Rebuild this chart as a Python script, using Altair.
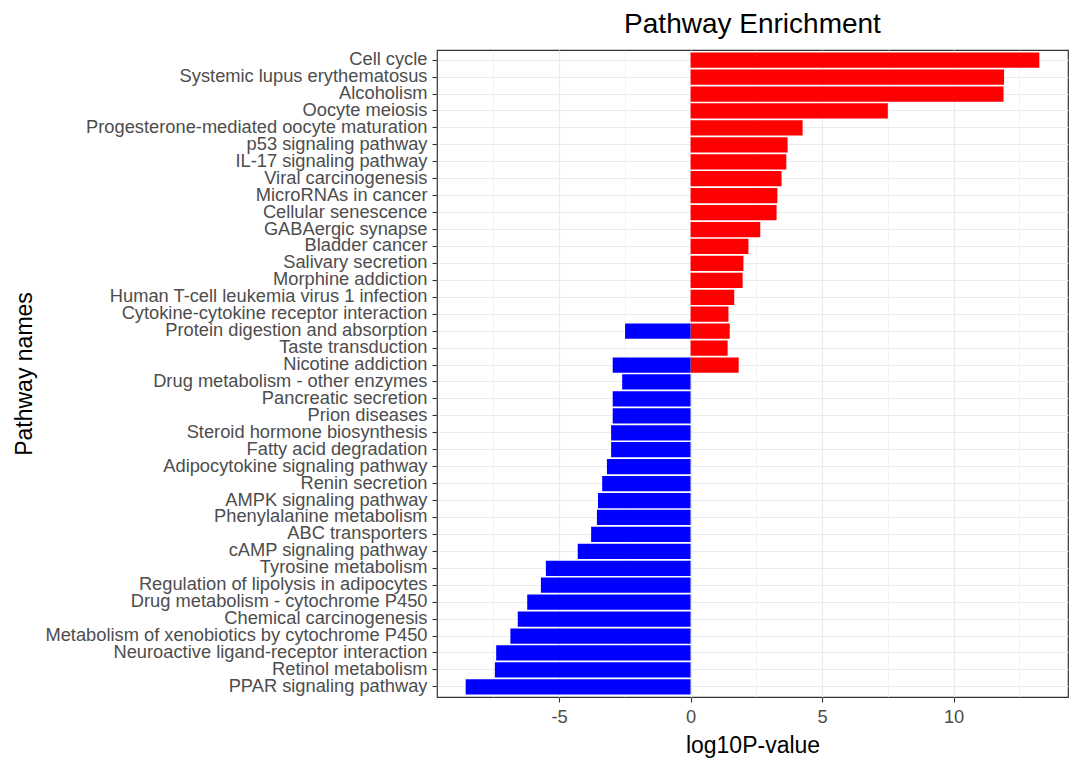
import altair as alt
import pandas as pd

# Pathways, top to bottom as drawn
pathways = [
    "Cell cycle",
    "Systemic lupus erythematosus",
    "Alcoholism",
    "Oocyte meiosis",
    "Progesterone-mediated oocyte maturation",
    "p53 signaling pathway",
    "IL-17 signaling pathway",
    "Viral carcinogenesis",
    "MicroRNAs in cancer",
    "Cellular senescence",
    "GABAergic synapse",
    "Bladder cancer",
    "Salivary secretion",
    "Morphine addiction",
    "Human T-cell leukemia virus 1 infection",
    "Cytokine-cytokine receptor interaction",
    "Protein digestion and absorption",
    "Taste transduction",
    "Nicotine addiction",
    "Drug metabolism - other enzymes",
    "Pancreatic secretion",
    "Prion diseases",
    "Steroid hormone biosynthesis",
    "Fatty acid degradation",
    "Adipocytokine signaling pathway",
    "Renin secretion",
    "AMPK signaling pathway",
    "Phenylalanine metabolism",
    "ABC transporters",
    "cAMP signaling pathway",
    "Tyrosine metabolism",
    "Regulation of lipolysis in adipocytes",
    "Drug metabolism - cytochrome P450",
    "Chemical carcinogenesis",
    "Metabolism of xenobiotics by cytochrome P450",
    "Neuroactive ligand-receptor interaction",
    "Retinol metabolism",
    "PPAR signaling pathway",
]

# Up-regulated (positive) log10P values
up_pathways = pathways[:19]
up_values = [13.26, 11.92, 11.90, 7.50, 4.26, 3.69, 3.64, 3.46, 3.30, 3.27,
             2.65, 2.20, 2.01, 1.98, 1.66, 1.44, 1.49, 1.41, 1.83]

# Down-regulated (negative) log10P values
down_pathways = ["Protein digestion and absorption", "Nicotine addiction"] + pathways[19:]
down_values = [-2.49, -2.96, -2.60, -2.96, -2.96, -3.02, -3.02, -3.18, -3.36,
               -3.52, -3.56, -3.78, -4.29, -5.50, -5.69, -6.21, -6.57, -6.85,
               -7.39, -7.44, -8.55]

x_ticks = [-7.5, -5, -2.5, 0, 2.5, 5, 7.5, 10, 12.5]

df = pd.concat([
    pd.DataFrame({"pathway": up_pathways, "value": up_values, "dir": "up"}),
    pd.DataFrame({"pathway": down_pathways, "value": down_values, "dir": "down"}),
], ignore_index=True)

FONT = "Liberation Sans"

chart = alt.Chart(df).mark_bar().encode(
    x=alt.X(
        "value:Q",
        stack=None,
        title="log10P-value",
        scale=alt.Scale(domain=[-9.64, 14.35], nice=False, zero=False),
        axis=alt.Axis(
            values=x_ticks,
            labelExpr="datum.value % 5 === 0 ? '' + datum.value : ''",
            gridWidth={"condition": {"test": "datum.value % 5 === 0", "value": 1.2}, "value": 0.6},
            tickOpacity={"condition": {"test": "datum.value % 5 === 0", "value": 1}, "value": 0},
            labelFontSize=18.3,
            labelPadding=6,
            titlePadding=9,
        ),
    ),
    y=alt.Y(
        "pathway:N",
        sort=pathways,
        title="Pathway names",
        scale=alt.Scale(paddingInner=0.1, paddingOuter=0.15),
        axis=alt.Axis(grid=True, bandPosition=0.5, gridWidth=1.2, labelLimit=500,
                      labelFontSize=18.3, labelPadding=5, titleX=-401),
    ),
    color=alt.Color(
        "dir:N",
        scale=alt.Scale(domain=["up", "down"], range=["#FF0000", "#0000FF"]),
        legend=None,
    ),
).properties(
    width=631,
    height=647,
    padding={"left": 4, "top": 2, "right": 2, "bottom": 0},
    title=alt.TitleParams("Pathway Enrichment", anchor="middle", fontSize=28,
                          font=FONT, fontWeight="normal", color="black", offset=11),
).configure_view(
    stroke="#333333", strokeWidth=1.2,
).configure_axis(
    labelFont=FONT, titleFont=FONT,
    titleFontSize=23,
    labelColor="#4D4D4D", titleColor="black",
    titleFontWeight="normal",
    gridColor="#EBEBEB",
    tickColor="#333333", tickSize=5, tickWidth=1.1,
    domain=False,
)

chart.save("out.html", embed_options={"renderer": "svg", "actions": False})
